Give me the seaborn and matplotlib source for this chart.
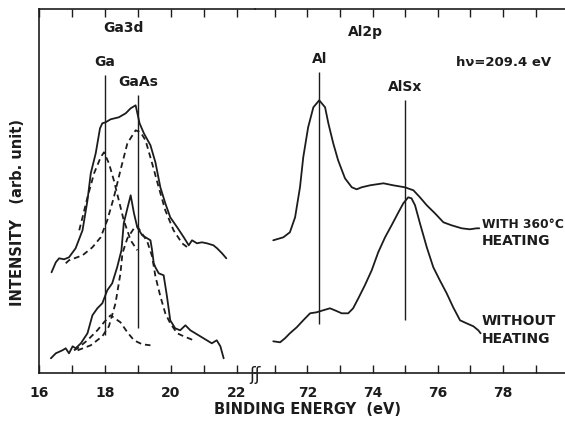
import pandas as pd
import matplotlib
matplotlib.use("Agg")
import matplotlib.pyplot as plt
import seaborn as sns

# Style : figure scannée noir et blanc
sns.set_theme(style="white")
plt.rcParams['font.family'] = ['DejaVu Sans']
plt.rcParams['font.weight'] = 'bold'
INK = '#1c1c1c'

# --- Ga3d (eV, intensité arb.) ---
ga_heat_e = [16.38, 16.51, 16.61, 16.76, 16.91, 17.11, 17.32, 17.47, 17.57, 17.72, 17.85,
             17.92, 18.02, 18.17, 18.42, 18.63, 18.78, 18.93, 19.05, 19.18, 19.38, 19.53,
             19.68, 19.83, 19.98, 20.19, 20.39, 20.54, 20.64, 20.79, 20.94, 21.09, 21.29,
             21.40, 21.55, 21.68]
ga_heat_i = [101, 111, 115, 114, 116, 125, 143, 173, 200, 220, 245,
             250, 251, 254, 256, 260, 265, 268, 250, 240, 228, 211,
             186, 170, 156, 146, 136, 128, 133, 130, 131, 130, 128,
             125, 120, 115]

ga_heat_ga_e = [17.22, 17.32, 17.47, 17.67, 17.87, 17.97, 18.12, 18.27, 18.42, 18.57, 18.78, 18.98]
ga_heat_ga_i = [143, 156, 176, 200, 216, 221, 210, 193, 173, 153, 133, 123]

ga_heat_gaas_e = [16.81, 16.91, 17.32, 17.62, 17.87, 18.07, 18.27, 18.47, 18.68, 18.93,
                  19.08, 19.23, 19.43, 19.63, 19.83, 20.08, 20.34, 20.54]
ga_heat_gaas_i = [110, 113, 118, 126, 136, 153, 176, 203, 230, 243,
                  241, 233, 210, 186, 163, 143, 130, 125]

ga_raw_e = [16.36, 16.51, 16.71, 16.81, 16.91, 17.02, 17.11, 17.27, 17.47, 17.62, 17.77,
            17.92, 18.07, 18.22, 18.37, 18.50, 18.57, 18.68, 18.78, 18.88, 18.98, 19.13,
            19.28, 19.38, 19.43, 19.48, 19.53, 19.63, 19.78, 19.88, 19.98, 20.13, 20.28,
            20.44, 20.59, 20.74, 20.89, 21.09, 21.24, 21.39, 21.50, 21.60]
ga_raw_i = [15, 20, 23, 25, 20, 27, 25, 30, 40, 58, 65,
            70, 83, 90, 106, 123, 150, 165, 178, 160, 146, 138,
            135, 133, 123, 110, 106, 100, 98, 77, 53, 45, 43,
            48, 43, 40, 37, 33, 30, 33, 27, 15]

ga_raw_ga_e = [17.06, 17.17, 17.47, 17.77, 17.97, 18.17, 18.47, 18.68, 18.88, 19.13, 19.38]
ga_raw_ga_i = [23, 25, 33, 43, 51, 58, 51, 41, 33, 29, 28]

ga_raw_gaas_e = [17.17, 17.57, 17.92, 18.12, 18.32, 18.47, 18.53, 18.68, 18.88, 18.98,
                 19.08, 19.28, 19.43, 19.53, 19.68, 19.83, 19.98, 20.19, 20.39, 20.69]
ga_raw_gaas_i = [23, 28, 37, 47, 70, 100, 120, 135, 145, 147,
                 142, 132, 117, 97, 77, 60, 50, 40, 37, 33]

# --- Al2p ---
al_heat_e = [70.95, 71.26, 71.46, 71.62, 71.77, 71.87, 72.02, 72.18, 72.36, 72.54, 72.64,
             72.79, 72.94, 73.15, 73.36, 73.51, 73.66, 73.92, 74.33, 74.63, 74.99, 75.25,
             75.45, 75.66, 75.91, 76.17, 76.42, 76.73, 76.98, 77.19, 77.27]
al_heat_i = [133, 136, 141, 156, 186, 216, 246, 266, 273, 266, 250,
             230, 213, 195, 186, 184, 186, 188, 190, 188, 186, 183,
             176, 168, 160, 151, 148, 145, 144, 145, 145]

al_raw_e = [70.95, 71.16, 71.31, 71.46, 71.67, 71.87, 72.08, 72.28, 72.48, 72.69, 72.84,
            73.05, 73.25, 73.40, 73.56, 73.76, 73.97, 74.17, 74.38, 74.58, 74.79, 74.94,
            75.09, 75.19, 75.30, 75.45, 75.66, 75.86, 76.06, 76.27, 76.47, 76.68, 76.88,
            77.09, 77.24, 77.31]
al_raw_i = [32, 31, 35, 40, 46, 53, 60, 61, 63, 65, 63,
            60, 60, 65, 75, 88, 103, 121, 136, 148, 161, 170,
            176, 175, 168, 150, 126, 106, 93, 80, 66, 53, 50,
            47, 43, 40]

# lignes de référence : position, bas, haut
ref_left = [(18.0, 38, 298, 'Ga'), (19.0, 45, 278, 'GaAs')]
ref_right = [(72.36, 49, 301, 'Al'), (75.0, 53, 273, 'AlSx')]

FS = 10


def trace(ax, e, i, dashed=False):
    df = pd.DataFrame({'energy': e, 'intensity': i})
    sns.lineplot(data=df, x='energy', y='intensity', ax=ax, sort=False,
                 estimator=None, color=INK, lw=1.3,
                 linestyle=(0, (3.2, 2.2)) if dashed else '-')


W, H = 565, 429
fig = plt.figure(figsize=(W / 100, H / 100), dpi=100)
bottom, height = (H - 373.3) / H, (373.3 - 9.3) / H
ax1 = fig.add_axes([39 / W, bottom, (255 - 39) / W, height])
ax2 = fig.add_axes([255 / W, bottom, (580 - 255) / W, height])

trace(ax1, ga_heat_e, ga_heat_i)
trace(ax1, ga_heat_ga_e, ga_heat_ga_i, dashed=True)
trace(ax1, ga_heat_gaas_e, ga_heat_gaas_i, dashed=True)
trace(ax1, ga_raw_e, ga_raw_i)
trace(ax1, ga_raw_ga_e, ga_raw_ga_i, dashed=True)
trace(ax1, ga_raw_gaas_e, ga_raw_gaas_i, dashed=True)
trace(ax2, al_heat_e, al_heat_i)
trace(ax2, al_raw_e, al_raw_i)

for ax, refs in ((ax1, ref_left), (ax2, ref_right)):
    for x, lo, hi, lab in refs:
        ax.vlines(x, lo, hi, color=INK, lw=1.0)
        ax.text(x, hi + 6, lab, ha='center', va='bottom', fontsize=FS, color=INK)

ax1.set_xlim(16.03, 22.55)
ax2.set_xlim(70.39, 80.36)
for ax in (ax1, ax2):
    ax.set_ylim(0, 364)
    ax.set_xlabel('')
    ax.set_ylabel('')
    ax.set_yticks([])
    ax.tick_params(axis='x', which='both', direction='in', top=True, bottom=True,
                   length=6, width=1.0, color=INK, labelsize=FS, pad=9, labelcolor=INK)
    for s in ax.spines.values():
        s.set_color(INK)
        s.set_linewidth(1.2)
    ax.set_facecolor('none')

ax1.set_xticks([16, 17, 18, 19, 20, 21, 22])
ax1.set_xticklabels(['16', '', '18', '', '20', '', '22'])
ax2.set_xticks([71, 72, 73, 74, 75, 76, 77, 78, 79, 80])
ax2.set_xticklabels(['', '72', '', '74', '', '76', '', '78', '', ''])
ax1.spines['right'].set_visible(False)
ax2.spines['left'].set_visible(False)
ax2.spines['right'].set_visible(False)

ax1.text(18.56, 345, 'Ga3d', ha='center', va='center', fontsize=FS, color=INK)
ax2.text(73.77, 341, 'Al2p', ha='center', va='center', fontsize=FS, color=INK)
ax2.text(78.0, 311, 'hν=209.4 eV', ha='center', va='center', fontsize=9.5, color=INK)
ax2.text(77.35, 149, 'WITH 360°C', ha='left', va='center', fontsize=8.8, color=INK)
ax2.text(77.35, 132, 'HEATING', ha='left', va='center', fontsize=FS, color=INK)
ax2.text(77.35, 52, 'WITHOUT', ha='left', va='center', fontsize=FS, color=INK)
ax2.text(77.35, 34, 'HEATING', ha='left', va='center', fontsize=FS, color=INK)

# coupure de l'axe
fig.text(255 / W, (H - 375) / H, 'ʃʃ', ha='center', va='center', fontsize=12,
         color=INK, fontweight='normal')
fig.text(307 / W, (H - 410) / H, 'BINDING ENERGY  (eV)', ha='center', va='center',
         fontsize=10.5, color=INK)
fig.text(18 / W, (H - 212) / H, 'INTENSITY   (arb. unit)', ha='center', va='center',
         rotation=90, fontsize=10.5, color=INK)

fig.savefig('out.png', dpi=100, facecolor='white')
